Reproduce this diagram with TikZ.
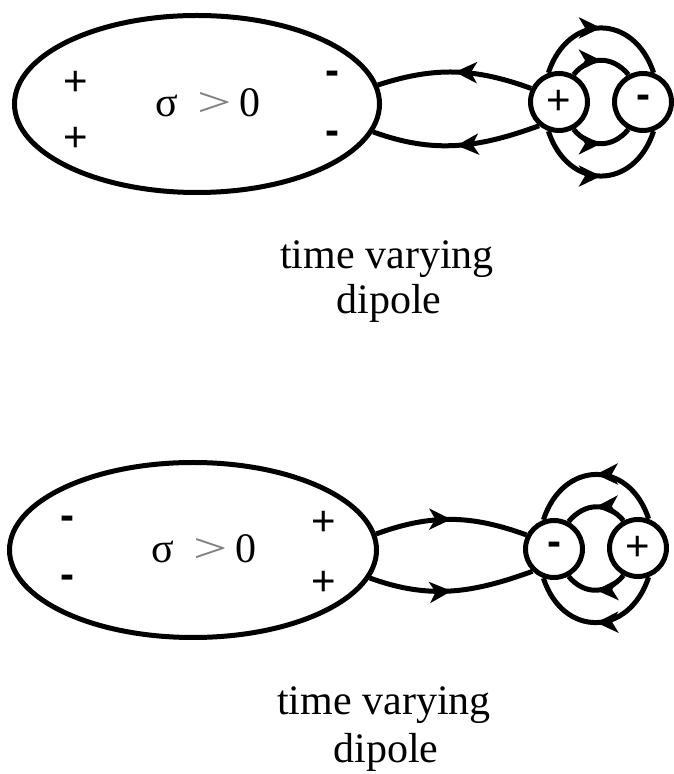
\documentclass[tikz,border=0pt]{standalone}
\usepackage{fontspec}
\usepackage{graphicx}
\setmainfont{Liberation Serif}
\newfontfamily\chargefont{Liberation Sans}
\usetikzlibrary{shapes.geometric,arrows.meta,decorations.markings}

\newcommand{\sigmagt}{σ\hspace{20pt}\textcolor{gray}{\scalebox{1.45}[1]{>}}\hspace{8pt}0}

\tikzset{
  body/.style={ellipse, draw, line width=5pt, inner sep=0pt},
  pole/.style={circle, draw, line width=5pt, minimum size=57pt, inner sep=0pt,
    font=\chargefont\fontsize{42}{42}\selectfont},
  negpole/.style={pole, font=\chargefont\bfseries\fontsize{42}{42}\selectfont},
  charge/.style={inner sep=0pt, font=\chargefont\fontsize{42}{42}\selectfont},
  neg/.style={charge, font=\chargefont\bfseries\fontsize{42}{42}\selectfont},
  sigmalabel/.style={anchor=base, inner sep=0pt, font=\fontsize{42}{42}\selectfont},
  caption/.style={anchor=base, inner sep=0pt, font=\fontsize{42}{45}\selectfont},
  fieldline/.style={line width=5pt, postaction={decorate},
    decoration={markings, mark=at position 0.5 with
      {\arrow{Stealth[length=22pt,width=21pt,inset=6pt]}}}}
}

\begin{document}
\begin{tikzpicture}[x=1pt,y=1pt]
\useasboundingbox (0,0) rectangle (674,774);

% ---------- upper panel: conductor with induced charges ----------
\node[body, minimum width=365pt, minimum height=177pt] (E1) at (197,670) {};
\node[charge] (c1a) at (76,691) {+};
\node[charge] (c1b) at (76,635) {+};
\node[neg] (c1c) at (332,696) {-};
\node[neg] (c1d) at (332,636) {-};
\node[sigmalabel] (s1) at (208,657) {\sigmagt};

% dipole
\node[pole] (P1) at (559,672) {+};
\node[negpole] (N1) at (643,672) {-};

% lines from the dipole into the conductor
\draw[fieldline] (P1.154) to[out=160,in=18] (E1.6);
\draw[fieldline] (P1.230) to[out=200,in=-20] (E1.-9);

% lines between the poles
\draw[fieldline] (P1.110) .. controls +(72:63) and +(108:63) .. (N1.70);
\draw[fieldline] (P1.62) .. controls +(50:25) and +(130:25) .. (N1.118);
\draw[fieldline] (P1.-62) .. controls +(-50:25) and +(-130:25) .. (N1.-118);
\draw[fieldline] (P1.-110) .. controls +(-72:63) and +(-108:63) .. (N1.-70);

\node[caption] (t1a) at (387,505) {time varying};
\node[caption] (t1b) at (389,460) {dipole};

% ---------- lower panel: reversed dipole ----------
\node[body, minimum width=367pt, minimum height=175pt] (E2) at (193,224) {};
\node[neg] (c2a) at (67,251) {-};
\node[neg] (c2b) at (67,192) {-};
\node[charge] (c2c) at (324,251) {+};
\node[charge] (c2d) at (324,191) {+};
\node[sigmalabel] (s2) at (204,211) {\sigmagt};

\node[negpole] (N2) at (554,225) {-};
\node[pole] (P2) at (638,226) {+};

\draw[fieldline] (E2.5) to[out=20,in=160] (N2.153);
\draw[fieldline] (E2.-9) to[out=-20,in=200] (N2.226);

\draw[fieldline] (P2.70) .. controls +(108:63) and +(72:63) .. (N2.110);
\draw[fieldline] (P2.118) .. controls +(130:25) and +(50:25) .. (N2.62);
\draw[fieldline] (P2.-118) .. controls +(-130:25) and +(-50:25) .. (N2.-62);
\draw[fieldline] (P2.-70) .. controls +(-108:63) and +(-72:63) .. (N2.-110);

\node[caption] (t2a) at (384,59) {time varying};
\node[caption] (t2b) at (386,12) {dipole};
\end{tikzpicture}
\end{document}
